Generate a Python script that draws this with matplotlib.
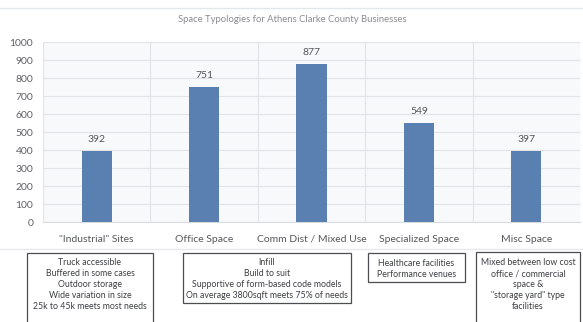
import matplotlib
matplotlib.use("Agg")
import matplotlib.pyplot as plt
from matplotlib.patches import Rectangle

categories = ['"Industrial" Sites', 'Office Space', 'Comm Dist / Mixed Use',
              'Specialized Space', 'Misc Space']
values = [392, 751, 877, 549, 397]
yticks = [0, 100, 200, 300, 400, 500, 600, 700, 800, 900, 1000]
title = 'Space Typologies for Athens Clarke County Businesses'
notes = [
    "Truck accessible\nBuffered in some cases\nOutdoor storage\nWide variation in size\n25k to 45k meets most needs",
    "Infill\nBuild to suit\nSupportive of form-based code models\nOn average 3800sqft meets 75% of needs",
    "Healthcare facilities\nPerformance venues",
    "Mixed between low cost\noffice / commercial\nspace &\n\"storage yard\" type\nfacilities",
]

plt.rcParams['font.family'] = ['Lato', 'DejaVu Sans']
W, H = 583, 322
fig = plt.figure(figsize=(W / 100, H / 100), dpi=100)
fig.patch.set_facecolor('white')

def fx(px):
    return px / W

def fy(py):
    return 1 - py / H

# chart frame lines
fig.add_artist(plt.Line2D([0, 1], [fy(8), fy(8)], color='#e3e6ea', lw=1.0,
                          transform=fig.transFigure))
fig.add_artist(plt.Line2D([0, 1], [fy(249), fy(249)], color='#e6e8eb', lw=1.0,
                          transform=fig.transFigure))

ax = fig.add_axes([fx(43), fy(222), fx(580) - fx(43), fy(42) - fy(222)])
ax.set_facecolor('#f8f9fa')
x = list(range(len(categories)))
ax.bar(x, values, width=0.28, color='#5a7fb1', zorder=3)
ax.set_xlim(-0.5, len(categories) - 0.5)
ax.set_ylim(0, 1000)
ax.set_yticks(yticks)
ax.set_yticklabels([str(t) for t in yticks])
ax.set_xticks(x)
ax.set_xticklabels(categories)
ax.set_xticks([i + 0.5 for i in range(-1, len(categories))], minor=True)
ax.grid(axis='y', which='major', color='#e0e3e7', lw=0.8, zorder=0)
ax.grid(axis='x', which='minor', color='#e0e3e7', lw=0.8, zorder=0)
ax.tick_params(axis='both', which='both', length=0)
ax.tick_params(axis='y', pad=7, labelsize=7.5, labelcolor='#5f6165')
ax.tick_params(axis='x', pad=9, labelsize=7.5, labelcolor='#55575b')
for s in ax.spines.values():
    s.set_visible(False)
ax.spines['bottom'].set_visible(True)
ax.spines['bottom'].set_color('#d8dbdf')
ax.spines['bottom'].set_linewidth(0.8)

for xi, v in zip(x, values):
    ax.annotate(str(v), (xi, v), xytext=(0, 5), textcoords='offset points',
                ha='center', va='bottom', fontsize=7.5, color='#55575b')

fig.text(fx(292), fy(20), title, ha='center', va='center', fontsize=6.8,
         color='#8a8c90')

# note boxes (pixel layout)
boxes = [(27, 253, 153, 330), (183, 253, 351, 303), (368, 253, 465, 282),
         (476, 252, 580, 330)]
text_tops = [258, 258, 259, 258]
for (x0, y0, x1, y1), txt, tt in zip(boxes, notes, text_tops):
    fig.add_artist(Rectangle((fx(x0) + 0.002, fy(y1) - 0.004), fx(x1 - x0), fy(y0) - fy(y1),
                             transform=fig.transFigure, facecolor='#d0d0d0',
                             edgecolor='none', zorder=1))
    fig.add_artist(Rectangle((fx(x0), fy(y1)), fx(x1 - x0), fy(y0) - fy(y1),
                             transform=fig.transFigure, facecolor='white',
                             edgecolor='#4a4d52', lw=0.9, zorder=2))
    fig.text(fx((x0 + x1) / 2), fy(tt), txt, ha='center', va='top',
             fontsize=6.3, color='#3c3f44', linespacing=1.3, zorder=3)

fig.savefig('out.png', dpi=100)
